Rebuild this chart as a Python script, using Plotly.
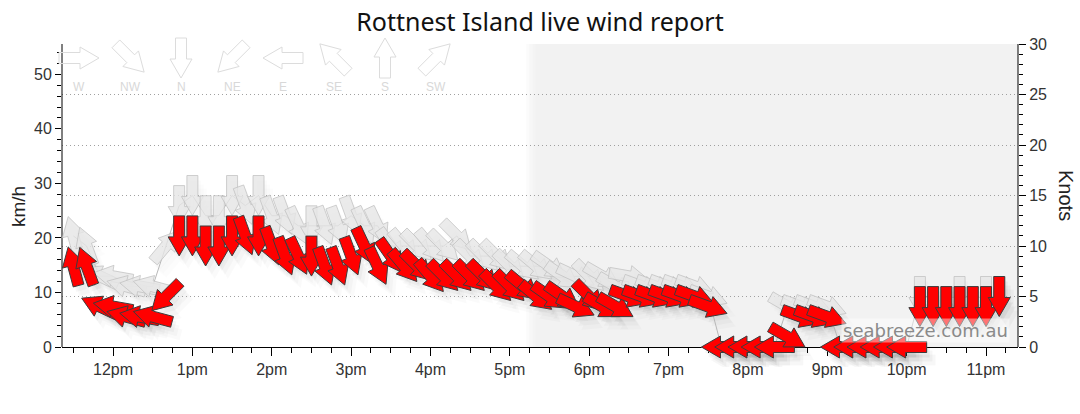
import math
import plotly.graph_objects as go

# 10 minute observations, speeds in knots, direction = where the wind comes from
times = ["11:30", "11:40", "11:50", "12:00", "12:10", "12:20", "12:30", "12:40",
         "12:50", "13:00", "13:10", "13:20", "13:30", "13:40", "13:50", "14:00",
         "14:10", "14:20", "14:30", "14:40", "14:50", "15:00", "15:10", "15:20",
         "15:30", "15:40", "15:50", "16:00", "16:10", "16:20", "16:30", "16:40",
         "16:50", "17:00", "17:10", "17:20", "17:30", "17:40", "17:50", "18:00",
         "18:10", "18:20", "18:30", "18:40", "18:50", "19:00", "19:10", "19:20",
         "19:30", "19:40", "19:50", "20:00", "20:10", "20:20", "20:30", "20:40",
         "20:50", "21:00", "21:10", "21:20", "21:30", "21:40", "21:50", "22:00",
         "22:10", "22:20", "22:30", "22:40", "22:50", "23:00", "23:10"]

wind_kn = [8, 8, 4, 4, 3, 3, 3, 5,
           11, 11, 10, 10, 11, 11, 11, 10,
           9, 9, 9, 8, 8, 9, 10, 8,
           9, 8, 8, 7, 7, 7, 7, 7,
           6, 6, 6, 5, 5, 5, 4, 5,
           4, 4, 5, 5, 5, 5, 5, 5,
           4, 0, 0, 0, 0, 0, 1, 3,
           3, 3, 0, 0, 0, 0, 0, 0,
           4, 4, 4, 4, 4, 4, 5]

wind_dir = [165, 160, 115, 100, 105, 100, 105, 45,
            0, 0, 0, 0, 0, 340, 0, 340,
            340, 335, 0, 340, 340, 340, 335, 335,
            325, 320, 315, 320, 315, 315, 315, 315,
            315, 315, 310, 310, 305, 305, 295, 315,
            300, 300, 290, 290, 290, 290, 290, 290,
            290, 90, 90, 90, 90, 90, 300, 290,
            290, 290, 90, 90, 90, 90, 90, 90,
            0, 0, 0, 0, 0, 0, 0]

gust_kn = [11, 10, 7, 7, 6, 6, 6, 10,
           14, 15, 13, 13, 15, 14, 15, 13,
           13, 12, 12, 12, 12, 13, 12, 12,
           10, 10, 10, 10, 10, 11, 9, 9,
           9, 8, 8, 8, 8, 7, 7, 7,
           7, 6, 7, 6, 6, 6, 6, 6,
           5, 0, 0, 0, 0, 0, 4, 4,
           4, 4, 0, 0, 0, 0, 0, 0,
           5, 4, 4, 5, 4, 5, 5]

gust_dir = [165, 160, 115, 100, 105, 100, 105, 220,
            0, 0, 0, 0, 0, 340, 0, 340,
            340, 335, 0, 340, 340, 340, 335, 335,
            325, 320, 315, 320, 315, 315, 315, 315,
            315, 315, 310, 310, 305, 305, 295, 315,
            300, 300, 280, 290, 290, 290, 290, 290,
            290, 90, 90, 90, 90, 90, 300, 290,
            290, 290, 90, 90, 90, 90, 90, 90,
            0, 0, 0, 0, 0, 0, 0]

hour_ticks = [12, 13, 14, 15, 16, 17, 18, 19, 20, 21, 22, 23]
hour_labels = ["12pm", "1pm", "2pm", "3pm", "4pm", "5pm", "6pm", "7pm",
               "8pm", "9pm", "10pm", "11pm"]

compass_labels = ["W", "NW", "N", "NE", "E", "SE", "S", "SW"]
compass_dirs = [270, 315, 0, 45, 90, 135, 180, 225]

SUNSET = "17:16"
KMH_PER_KNOT = 1.852
KN_MAX = 30
X_RANGE = [11.357, 23.403]

# page geometry (pixels)
FIG_W, FIG_H = 1080, 414
PLOT_L, PLOT_W = 62, 956
PLOT_TOP, ZERO_Y, PLOT_BOTTOM = 44, 347, 367   # plot area runs a little below y=0
PLOT_H = PLOT_BOTTOM - PLOT_TOP
AXIS_POS = (PLOT_BOTTOM - ZERO_Y) / PLOT_H
KN_LOW = -KN_MAX * (PLOT_BOTTOM - ZERO_Y) / (ZERO_Y - PLOT_TOP)


def px_x(px):
    return (px - PLOT_L) / PLOT_W


def px_y(py):
    return (PLOT_BOTTOM - py) / PLOT_H


def to_hours(t):
    hh, mm = t.split(":")
    return int(hh) + int(mm) / 60.0


hours = [to_hours(t) for t in times]

# arrow glyph in pixels, pointing up, centred on the data point
ARROW = [(-5.5, -20), (5.5, -20), (5.5, 1), (11, 1), (0, 20), (-11, 1), (-5.5, 1)]


def arrow_path(from_deg, dx=0.0, dy=0.0):
    a = math.radians((from_deg + 180) % 360)
    c, s = math.cos(a), math.sin(a)
    pts = []
    for x, y in ARROW:
        pts.append(f"{x * c + y * s + dx:.2f},{-x * s + y * c + dy:.2f}")
    return "M" + " L".join(pts) + " Z"


def data_arrow(h, kn, d, fill, line, layer="above", dx=0.0, dy=0.0, lw=1):
    return dict(type="path", xref="x", yref="y2", xsizemode="pixel", ysizemode="pixel",
                xanchor=h, yanchor=kn, path=arrow_path(d, dx, dy), layer=layer,
                fillcolor=fill, line=dict(color=line, width=lw))


shapes = []

# night shading with a soft edge
sun = to_hours(SUNSET)
fades = ["#fbfbfb", "#f7f7f7", "#f4f4f4", "#f2f2f2"]
for i, col in enumerate(fades):
    shapes.append(dict(type="rect", xref="x", yref="y2", x0=sun - 0.06 + i * 0.04,
                       x1=X_RANGE[1], y0=0, y1=KN_MAX, fillcolor=col, line=dict(width=0),
                       layer="below"))

# soft shadows
shadow_steps = [(3, -5, 0.03), (6, -9, 0.025), (9, -13, 0.02)]
for dx, dy, a in shadow_steps:
    for h, kn, d in zip(hours, wind_kn, wind_dir):
        shapes.append(data_arrow(h, kn, d, f"rgba(0,0,0,{a})", "rgba(0,0,0,0)", "below", dx, dy, 0))
    for h, kn, d in zip(hours, gust_kn, gust_dir):
        shapes.append(data_arrow(h, kn, d, f"rgba(0,0,0,{a / 2})", "rgba(0,0,0,0)", "below", dx, dy, 0))

# vertical axis lines stop at zero
for xp in (0, 1):
    shapes.append(dict(type="line", xref="paper", yref="paper", x0=xp, x1=xp,
                       y0=AXIS_POS, y1=1, line=dict(color="black", width=1), layer="above"))

# gusts (grey) then average wind (red)
for h, kn, d in zip(hours, gust_kn, gust_dir):
    shapes.append(data_arrow(h, kn, d, "rgba(230,230,230,0.8)", "rgba(192,192,192,0.75)"))
for h, kn, d in zip(hours, wind_kn, wind_dir):
    shapes.append(data_arrow(h, kn, d, "#ff0000", "#3c3c3c"))

# direction key along the top
annotations = []
for i, (lab, d) in enumerate(zip(compass_labels, compass_dirs)):
    xa = px_x(79 + i * 51)
    shapes.append(dict(type="path", xref="paper", yref="paper", xsizemode="pixel",
                       ysizemode="pixel", xanchor=xa, yanchor=px_y(58),
                       path=arrow_path(d), fillcolor="rgba(255,255,255,0)",
                       line=dict(color="#dcdcdc", width=1), layer="above"))
    annotations.append(dict(text=lab, xref="paper", yref="paper", x=xa, y=px_y(87),
                            xanchor="center", yanchor="middle", showarrow=False,
                            font=dict(family="Liberation Sans", size=12, color="#d8d8d8")))

annotations += [
    dict(text="km/h", xref="paper", yref="paper", x=px_x(18), y=px_y(207),
         xanchor="center", yanchor="middle", textangle=-90, showarrow=False,
         font=dict(family="Liberation Sans", size=19, color="#222")),
    dict(text="Knots", xref="paper", yref="paper", x=px_x(1066), y=px_y(195),
         xanchor="center", yanchor="middle", textangle=90, showarrow=False,
         font=dict(family="Liberation Sans", size=20, color="#222")),
    dict(text="seabreeze.com.au", xref="paper", yref="paper", x=px_x(1010), y=px_y(330),
         xanchor="right", yanchor="middle", showarrow=False,
         bgcolor="rgba(255,255,255,0.45)",
         font=dict(family="DejaVu Sans", size=18, color="#8a8a8a")),
]

fig = go.Figure()
fig.add_trace(go.Scatter(x=hours, y=[k * KMH_PER_KNOT for k in wind_kn], mode="markers",
                         marker=dict(opacity=0), hoverinfo="skip", showlegend=False))
fig.add_trace(go.Scatter(x=hours, y=gust_kn, yaxis="y2", mode="lines",
                         line=dict(color="#b8b8b8", width=1), hoverinfo="skip",
                         showlegend=False))

tick_font = dict(family="Liberation Sans", size=16, color="#333")
fig.update_layout(
    width=FIG_W, height=FIG_H,
    margin=dict(l=PLOT_L, r=FIG_W - PLOT_L - PLOT_W, t=PLOT_TOP, b=FIG_H - PLOT_BOTTOM),
    paper_bgcolor="white", plot_bgcolor="white",
    showlegend=False,
    title=dict(text="Rottnest Island live wind report", x=0.5, xanchor="center",
               y=1 - 22 / FIG_H, yanchor="middle",
               font=dict(family="Noto Sans", size=25, color="#111")),
    xaxis=dict(range=X_RANGE, tickmode="array", tickvals=hour_ticks, ticktext=hour_labels,
               anchor="free", position=AXIS_POS,
               ticks="outside", ticklen=8, tickcolor="black", showline=True,
               linecolor="black", showgrid=False, zeroline=False, tickfont=tick_font,
               automargin=False,
               minor=dict(tick0=0, dtick=0.25, ticks="outside", ticklen=5,
                          tickcolor="black", showgrid=False)),
    yaxis=dict(range=[KN_LOW * KMH_PER_KNOT, KN_MAX * KMH_PER_KNOT], tickmode="array",
               tickvals=list(range(0, 60, 10)),
               ticks="outside", ticklen=6, tickcolor="black", showline=False,
               showgrid=False, zeroline=False, tickfont=tick_font, automargin=False,
               minor=dict(tickmode="array", tickvals=list(range(0, 56, 2)),
                          ticks="outside", ticklen=4, tickcolor="black", showgrid=False)),
    yaxis2=dict(range=[KN_LOW, KN_MAX], overlaying="y", side="right", tickmode="array",
                tickvals=list(range(0, 35, 5)), ticks="outside", ticklen=7,
                tickcolor="black", showline=False, showgrid=True, gridcolor="#a0a0a0",
                griddash="1px,3px", gridwidth=1, zeroline=False, tickfont=tick_font,
                automargin=False,
                minor=dict(tickmode="array", tickvals=list(range(0, 31)),
                           ticks="outside", ticklen=4, tickcolor="black", showgrid=False)),
    shapes=shapes,
    annotations=annotations,
)

# page has a default 8px body margin; drop it so the chart fills the window
fig.write_html("out.html", config={"displayModeBar": False},
               post_script="document.body.style.margin='0';")
